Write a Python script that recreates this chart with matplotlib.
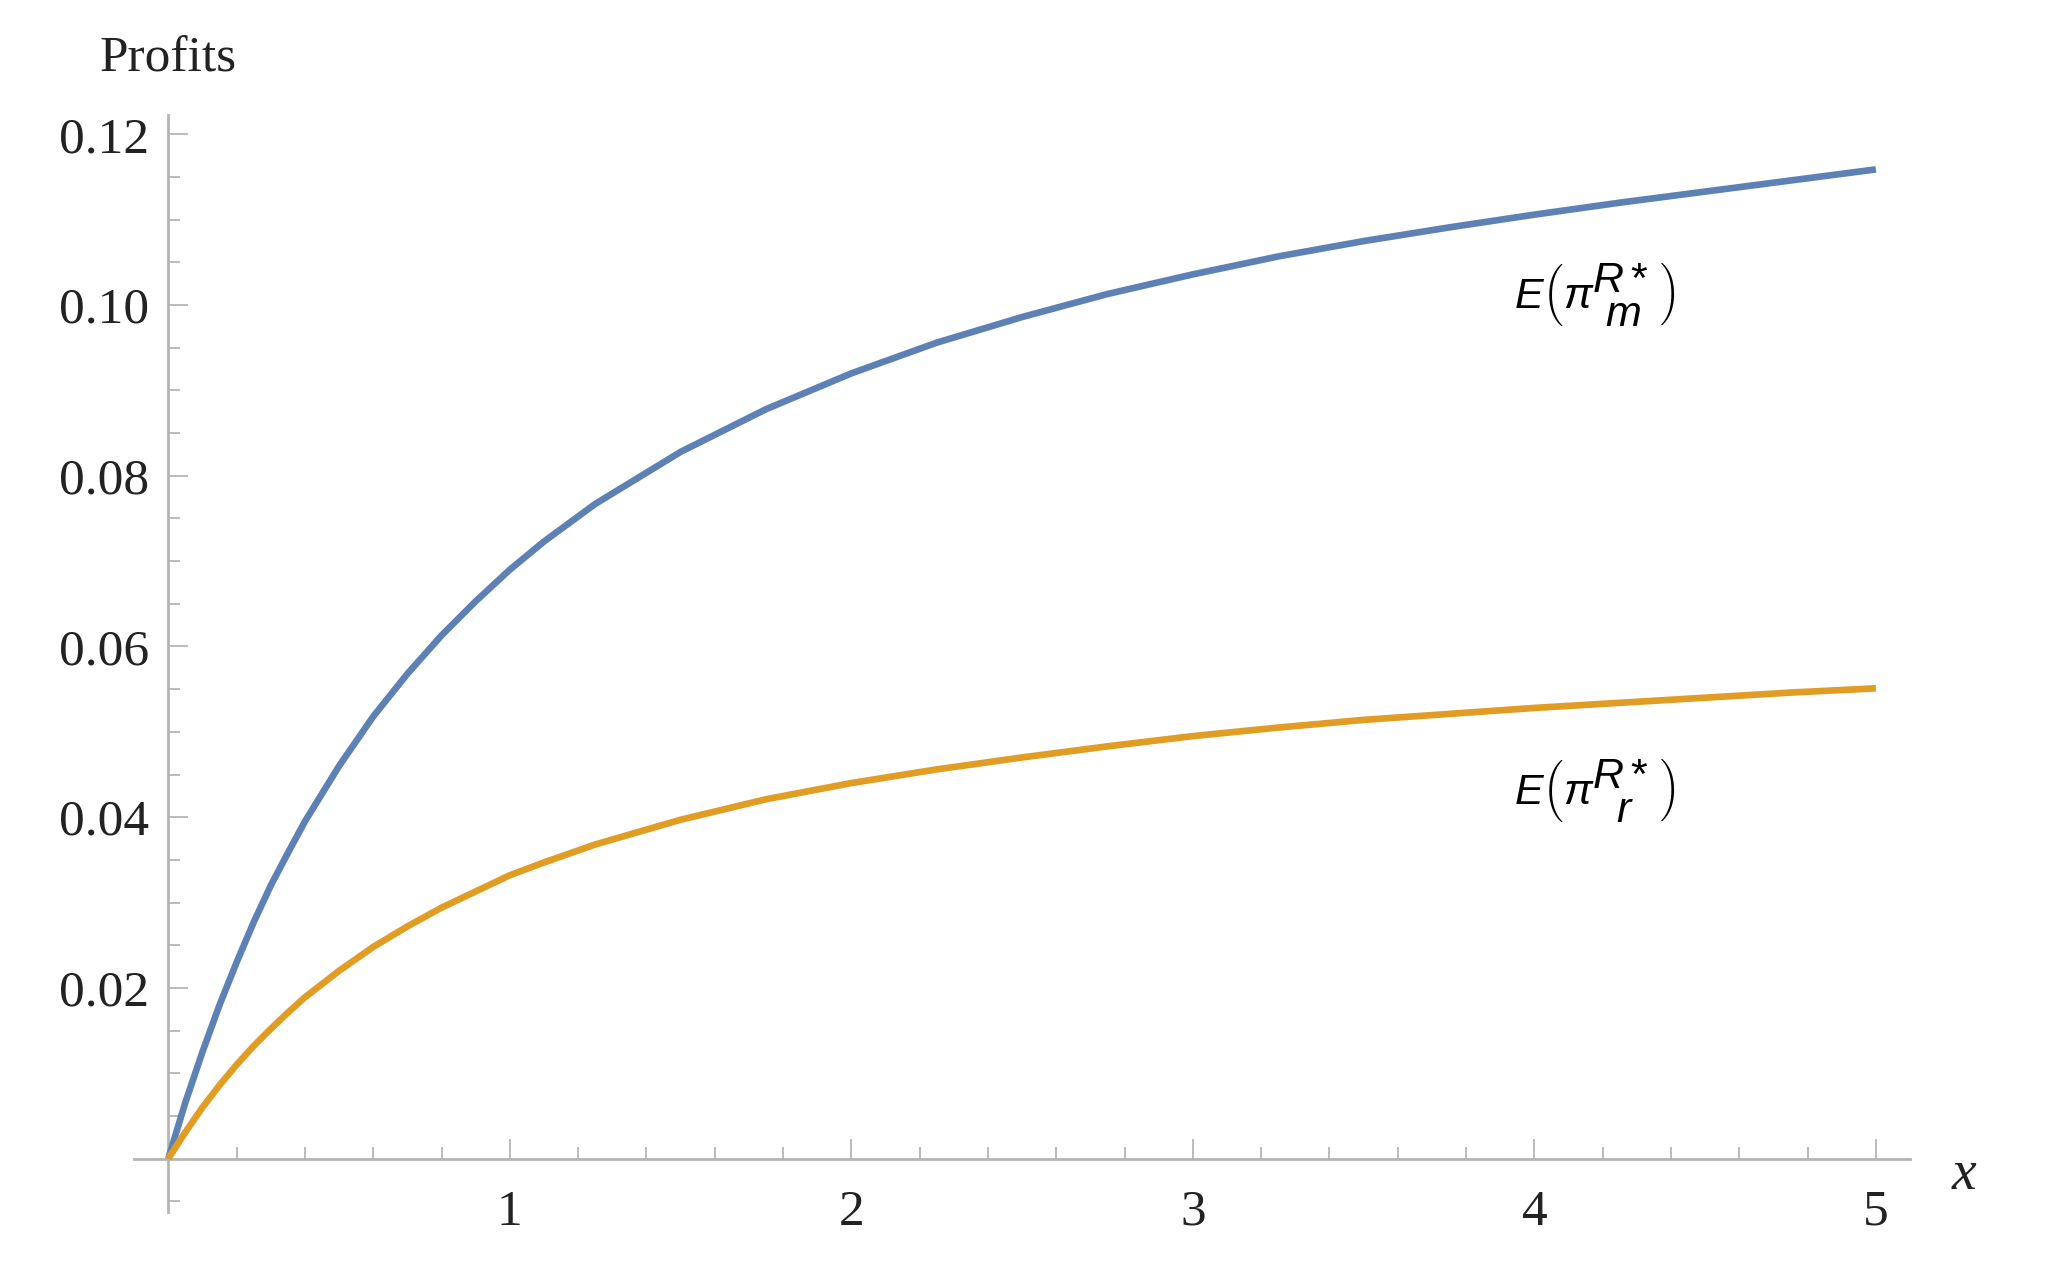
import matplotlib
matplotlib.use("Agg")
import matplotlib.pyplot as plt
from matplotlib.ticker import FixedLocator

# values
x_vals = [0, 0.05, 0.1, 0.15, 0.2, 0.25, 0.3, 0.35, 0.4, 0.5, 0.6, 0.7, 0.8,
          0.9, 1.0, 1.1, 1.25, 1.5, 1.75, 2.0, 2.25, 2.5, 2.75, 3.0, 3.25,
          3.5, 3.75, 4.0, 4.25, 4.5, 4.75, 5.0]
profit_m = [0, 0.0066, 0.0125, 0.018, 0.023, 0.0277, 0.032, 0.0358, 0.0395,
            0.046, 0.0518, 0.0568, 0.0613, 0.0653, 0.069, 0.0723, 0.0767,
            0.0828, 0.0878, 0.092, 0.0956, 0.0986, 0.1013, 0.1036, 0.1057,
            0.1075, 0.1091, 0.1106, 0.112, 0.1133, 0.1146, 0.1159]
profit_r = [0, 0.0031, 0.006, 0.0086, 0.011, 0.0132, 0.0152, 0.0171, 0.0189,
            0.022, 0.0248, 0.0272, 0.0294, 0.0313, 0.0332, 0.0347, 0.0368,
            0.0397, 0.0421, 0.044, 0.0456, 0.047, 0.0483, 0.0495, 0.0505,
            0.0514, 0.0521, 0.0528, 0.0534, 0.054, 0.0546, 0.0551]
x_ticks = [1, 2, 3, 4, 5]
y_ticks = [0.02, 0.04, 0.06, 0.08, 0.10, 0.12]
y_ticklabels = ["0.02", "0.04", "0.06", "0.08", "0.10", "0.12"]
label_m = r"$E\left(\pi\genfrac{}{}{0}{0}{R*}{m}\right)$"
label_r = r"$E\left(\pi\genfrac{}{}{0}{0}{R*}{r}\right)$"

plt.rcParams["mathtext.fontset"] = "custom"
plt.rcParams["mathtext.rm"] = "Liberation Sans"
plt.rcParams["mathtext.it"] = "Liberation Sans:italic"
plt.rcParams["mathtext.bf"] = "Liberation Sans:bold"

W, H = 2058, 1281
fig = plt.figure(figsize=(W / 100, H / 100), dpi=100)
ax = fig.add_axes([0.0652, 0.0536, 0.8629, 0.8568])

blue = "#5E81B5"
orange = "#E19C24"
axis_col = "#b5b5b5"

ax.plot(x_vals, profit_m, color=blue, lw=4.8, solid_capstyle="butt",
        solid_joinstyle="round", clip_on=False, zorder=3)
ax.plot(x_vals, profit_r, color=orange, lw=4.8, solid_capstyle="butt",
        solid_joinstyle="round", clip_on=False, zorder=3)

ax.set_xlim(-0.1, 5.1)
ax.set_ylim(-0.0063, 0.1223)

# axes crossing at the origin, Mathematica style
for s in ["top", "right"]:
    ax.spines[s].set_visible(False)
ax.spines["left"].set_position(("data", 0))
ax.spines["bottom"].set_position(("data", 0))
for s in ["left", "bottom"]:
    ax.spines[s].set_color(axis_col)
    ax.spines[s].set_linewidth(2.0)

ax.set_xticks(x_ticks)
ax.set_xticklabels([str(v) for v in x_ticks])
ax.set_yticks(y_ticks)
ax.set_yticklabels(y_ticklabels)

x_minor = [i * 0.2 for i in range(1, 26) if i % 5 != 0]
y_minor = [i * 0.005 for i in range(-1, 25) if i % 4 != 0]
ax.xaxis.set_minor_locator(FixedLocator(x_minor))
ax.yaxis.set_minor_locator(FixedLocator(y_minor))

ax.tick_params(which="both", direction="in", color=axis_col, width=1.3)
ax.tick_params(which="major", length=14.5)
ax.tick_params(which="minor", length=8.5)
ax.tick_params(axis="y", which="major", pad=14)
ax.tick_params(axis="x", which="major", pad=22)

for lab in ax.get_xticklabels() + ax.get_yticklabels():
    lab.set_fontfamily("Liberation Serif")
    lab.set_fontsize(37)
    lab.set_color("#222222")

fig.text(168 / W, 1 - 72 / H, "Profits", family="Liberation Serif", fontsize=37,
         ha="center", va="baseline", color="#222222")
fig.text(1964 / W, 1 - 1189 / H, "x", family="Liberation Serif", style="italic",
         fontsize=40, ha="center", va="baseline", color="#222222")

ax.text(3.94, 0.0996, label_m, fontsize=31, ha="left", va="baseline", color="black")
ax.text(3.94, 0.0414, label_r, fontsize=31, ha="left", va="baseline", color="black")

fig.savefig("out.png", dpi=100, facecolor="white")
